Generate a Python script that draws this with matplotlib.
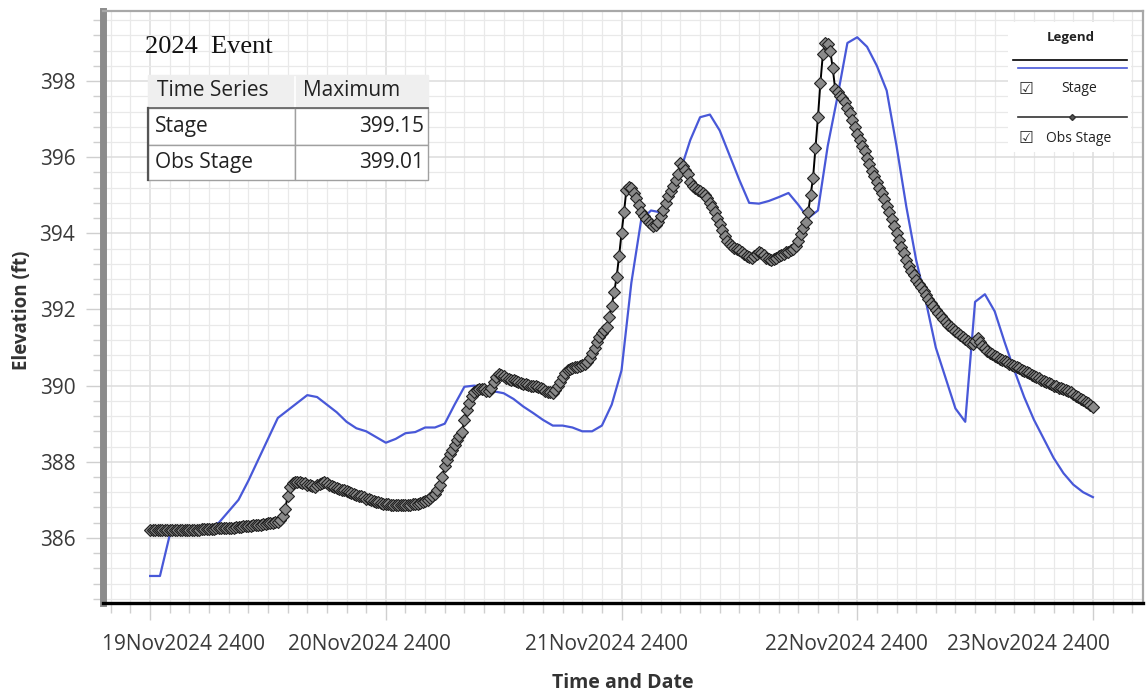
import numpy as np
import matplotlib
matplotlib.use('Agg')
import matplotlib.pyplot as plt
import matplotlib.patches as mpatches
import matplotlib.transforms as mtransforms
from matplotlib.lines import Line2D
from matplotlib.ticker import MultipleLocator

# ============================================================================
# DATA (hours after 19Nov2024 2400)
# ============================================================================
stage_hours = np.arange(0, 97, 1)
stage = [
    385.00, 385.00, 386.08, 386.10, 386.12, 386.15, 386.25, 386.40,   # 0-7
    386.70, 387.00, 387.50, 388.05, 388.60, 389.15, 389.35, 389.55,   # 8-15
    389.75, 389.70, 389.50, 389.30, 389.05, 388.88, 388.80, 388.65,   # 16-23
    388.50, 388.60, 388.75, 388.78, 388.90, 388.90, 389.00, 389.50,   # 24-31
    389.97, 390.00, 389.95, 389.85, 389.80, 389.65, 389.45, 389.28,   # 32-39
    389.10, 388.95, 388.95, 388.90, 388.80, 388.80, 388.95, 389.50,   # 40-47
    390.40, 392.70, 394.35, 394.60, 394.55, 394.90, 395.65, 396.45,   # 48-55
    397.05, 397.12, 396.70, 396.05, 395.40, 394.80, 394.78, 394.85,   # 56-63
    394.95, 395.06, 394.75, 394.40, 394.60, 396.30, 397.60, 399.00,   # 64-71
    399.15, 398.90, 398.40, 397.75, 396.30, 394.70, 393.30, 392.20,   # 72-79
    391.00, 390.20, 389.40, 389.05, 392.20, 392.40, 391.95, 391.15,   # 80-87
    390.40, 389.70, 389.10, 388.60, 388.10, 387.70, 387.40, 387.20,   # 88-95
    387.07,
]

obs_hours = np.arange(0, 96.01, 0.25)
obs_stage = [
    386.20, 386.20, 386.21, 386.20, 386.20, 386.21, 386.21, 386.20, 386.20, 386.21, 386.21, 386.21, 386.21, 386.20, 386.21, 386.21,
    386.21, 386.21, 386.22, 386.22, 386.22, 386.23, 386.23, 386.23, 386.24, 386.24, 386.24, 386.25, 386.25, 386.25, 386.26, 386.26,
    386.26, 386.27, 386.27, 386.28, 386.28, 386.29, 386.30, 386.30, 386.31, 386.32, 386.33, 386.33, 386.34, 386.35, 386.36, 386.37,
    386.38, 386.39, 386.40, 386.42, 386.43, 386.48, 386.58, 386.75, 387.10, 387.35, 387.45, 387.47, 387.48, 387.47, 387.45, 387.43,
    387.40, 387.38, 387.36, 387.35, 387.38, 387.42, 387.45, 387.46, 387.43, 387.40, 387.37, 387.34, 387.31, 387.29, 387.27, 387.25,
    387.22, 387.20, 387.18, 387.16, 387.13, 387.11, 387.09, 387.07, 387.03, 387.01, 386.99, 386.97, 386.95, 386.93, 386.91, 386.90,
    386.89, 386.88, 386.87, 386.87, 386.86, 386.86, 386.86, 386.86, 386.86, 386.87, 386.87, 386.88, 386.89, 386.90, 386.91, 386.93,
    386.97, 387.00, 387.04, 387.09, 387.16, 387.25, 387.40, 387.60, 387.88, 388.05, 388.20, 388.32, 388.45, 388.58, 388.68, 388.78,
    389.10, 389.35, 389.55, 389.72, 389.82, 389.88, 389.92, 389.92, 389.90, 389.87, 389.85, 389.95, 390.10, 390.22, 390.30, 390.28,
    390.25, 390.20, 390.17, 390.15, 390.14, 390.12, 390.10, 390.08, 390.05, 390.03, 390.01, 390.00, 389.99, 389.98, 389.97, 389.95,
    389.90, 389.87, 389.84, 389.82, 389.80, 389.88, 389.98, 390.10, 390.22, 390.32, 390.40, 390.43, 390.46, 390.48, 390.50, 390.52,
    390.55, 390.58, 390.62, 390.72, 390.85, 391.00, 391.15, 391.28, 391.38, 391.45, 391.55, 391.80, 392.10, 392.45, 392.85, 393.40,
    394.00, 394.55, 395.15, 395.22, 395.18, 395.05, 394.92, 394.75, 394.55, 394.45, 394.38, 394.30, 394.25, 394.20, 394.22, 394.30,
    394.45, 394.62, 394.80, 394.98, 395.12, 395.25, 395.40, 395.55, 395.85, 395.78, 395.66, 395.55, 395.35, 395.25, 395.20, 395.15,
    395.10, 395.06, 395.00, 394.92, 394.80, 394.68, 394.55, 394.40, 394.25, 394.08, 393.92, 393.80, 393.72, 393.66, 393.62, 393.60,
    393.55, 393.50, 393.45, 393.40, 393.38, 393.36, 393.40, 393.45, 393.50, 393.48, 393.42, 393.36, 393.32, 393.30, 393.33, 393.36,
    393.40, 393.42, 393.45, 393.50, 393.52, 393.55, 393.60, 393.66, 393.80, 393.98, 394.15, 394.30, 394.55, 395.00, 395.45, 396.25,
    397.05, 397.95, 398.70, 399.01, 398.98, 398.80, 398.35, 397.80, 397.70, 397.62, 397.55, 397.45, 397.30, 397.15, 396.98, 396.80,
    396.60, 396.45, 396.30, 396.15, 395.98, 395.82, 395.65, 395.50, 395.35, 395.20, 395.05, 394.90, 394.72, 394.55, 394.38, 394.20,
    394.00, 393.82, 393.65, 393.48, 393.30, 393.15, 393.02, 392.90, 392.78, 392.68, 392.58, 392.48, 392.38, 392.28, 392.18, 392.08,
    391.98, 391.90, 391.82, 391.75, 391.68, 391.60, 391.54, 391.48, 391.43, 391.38, 391.33, 391.28, 391.22, 391.17, 391.12, 391.10,
    391.18, 391.25, 391.15, 391.05, 390.98, 390.92, 390.86, 390.82, 390.78, 390.74, 390.70, 390.67, 390.64, 390.61, 390.58, 390.55,
    390.52, 390.48, 390.45, 390.41, 390.38, 390.35, 390.32, 390.29, 390.26, 390.22, 390.19, 390.16, 390.13, 390.10, 390.07, 390.04,
    390.00, 389.98, 389.95, 389.93, 389.90, 389.88, 389.85, 389.82, 389.78, 389.74, 389.70, 389.66, 389.62, 389.58, 389.54, 389.50,
    389.45,
]

day_ticks = [0, 24, 48, 72, 96]
day_labels = ['19Nov2024 2400', '20Nov2024 2400', '21Nov2024 2400',
              '22Nov2024 2400', '23Nov2024 2400']
y_ticks = [386, 388, 390, 392, 394, 396, 398]

table_rows = ['Stage', 'Obs Stage']
table_max = ['399.15', '399.01']

# ============================================================================
# FIGURE
# ============================================================================
W, H = 1146, 692
fig = plt.figure(figsize=(W / 100, H / 100), dpi=100)
fig.patch.set_facecolor('white')

def fx(px):
    return px / W

def fy(py):
    return 1 - py / H

ax_l, ax_r, ax_t, ax_b = 103, 1143, 11, 603
ax = fig.add_axes([fx(ax_l), fy(ax_b), fx(ax_r) - fx(ax_l), fy(ax_t) - fy(ax_b)])

ax.plot(stage_hours, stage, color='#4858d8', lw=1.6, zorder=3)
ax.plot(obs_hours, obs_stage, color='black', lw=1.4, marker='D', ms=6.6,
        mfc='#8a8a8a', mec='#202020', mew=0.8, zorder=4)

ax.set_xlim(-4.8, 101.1)
ax.set_ylim(384.29, 399.84)

# grid
ax.xaxis.set_major_locator(MultipleLocator(24))
ax.xaxis.set_minor_locator(MultipleLocator(2))
ax.yaxis.set_major_locator(MultipleLocator(2))
ax.yaxis.set_minor_locator(MultipleLocator(0.4))
ax.grid(which='minor', color='#e9e9e9', lw=0.9)
ax.grid(which='major', color='#dcdcdc', lw=1.1)
ax.set_axisbelow(True)

ax.set_xticks(day_ticks)
ax.set_xticklabels(day_labels)
ax.set_yticks(y_ticks)
ax.set_yticklabels([str(v) for v in y_ticks])

ax.tick_params(axis='both', which='both', direction='out', color='#cfcfcf')
ax.tick_params(axis='x', which='major', length=12, width=1, pad=10,
               labelsize=15, labelcolor='#3a3a3a')
ax.tick_params(axis='x', which='minor', length=7, width=1)
ax.tick_params(axis='y', which='major', length=12, width=1, pad=8,
               labelsize=15, labelcolor='#3a3a3a')
ax.tick_params(axis='y', which='minor', length=7, width=1)
for lab in ax.get_xticklabels() + ax.get_yticklabels():
    lab.set_fontfamily('Open Sans')

# shift x labels to where the original program put them
label_shift = [33, -16, -15, -11, -64]
for lab, dx in zip(ax.get_xticklabels(), label_shift):
    lab.set_transform(lab.get_transform() +
                      mtransforms.ScaledTranslation(dx / 100, 0, fig.dpi_scale_trans))

# spines
ax.spines['left'].set_color('#8c8c8c')
ax.spines['left'].set_linewidth(5)
ax.spines['bottom'].set_color('black')
ax.spines['bottom'].set_linewidth(2.4)
ax.spines['top'].set_color('#a8a8a8')
ax.spines['top'].set_linewidth(1.6)
ax.spines['right'].set_color('#a8a8a8')
ax.spines['right'].set_linewidth(1.6)

fig.text(fx(22), fy(310), 'Elevation (ft)', rotation=90, ha='center', va='center',
         fontsize=13.5, fontweight='bold', color='#333333', family='Open Sans')
fig.text(fx(623), fy(683), 'Time and Date', ha='center', va='center',
         fontsize=14, fontweight='bold', color='#333333', family='Open Sans')

# ============================================================================
# TITLE + MAXIMUM TABLE
# ============================================================================
fig.text(fx(145), fy(47), '2024  Event', ha='left', va='center',
         fontsize=19, family='Liberation Serif', color='#111111')

col_x = [148, 295, 428]
row_y = [75, 108, 145, 180]
tf = fig.transFigure

def cell(x0, y0, x1, y1, fc, ec):
    fig.patches.append(mpatches.Rectangle((fx(x0), fy(y1)), fx(x1) - fx(x0), fy(y0) - fy(y1),
                                          transform=tf, facecolor=fc, edgecolor=ec, lw=1, zorder=5))

cell(col_x[0], row_y[0], col_x[2], row_y[1], '#efefef', '#efefef')
for r in range(2):
    for c in range(2):
        cell(col_x[c], row_y[r + 1], col_x[c + 1], row_y[r + 2], 'white', '#a0a0a0')
fig.lines.append(Line2D([fx(col_x[1]), fx(col_x[1])], [fy(row_y[0] + 2), fy(row_y[1])],
                        transform=tf, color='white', lw=1.2, zorder=6))
fig.lines.append(Line2D([fx(col_x[0]), fx(col_x[2])], [fy(row_y[1]), fy(row_y[1])],
                        transform=tf, color='#6a6a6a', lw=1.3, zorder=6))
fig.lines.append(Line2D([fx(col_x[0]), fx(col_x[0])], [fy(row_y[1]), fy(row_y[3])],
                        transform=tf, color='#555555', lw=1.6, zorder=6))

tkw = dict(fontsize=15, family='Open Sans', color='#222222', va='center', zorder=7)
fig.text(fx(157), fy(91), 'Time Series', ha='left', **tkw)
fig.text(fx(303), fy(91), 'Maximum', ha='left', **tkw)
for i, (name, val) in enumerate(zip(table_rows, table_max)):
    yc = (row_y[i + 1] + row_y[i + 2]) / 2
    fig.text(fx(155), fy(yc), name, ha='left', **tkw)
    fig.text(fx(424), fy(yc), val, ha='right', **tkw)

# ============================================================================
# LEGEND PANEL
# ============================================================================
fig.patches.append(mpatches.Rectangle((fx(1008), fy(152)), fx(1131) - fx(1008), fy(22) - fy(152),
                                      transform=tf, facecolor='white', edgecolor='none', zorder=5))
fig.text(fx(1071), fy(37), 'Legend', ha='center', va='center', fontsize=9.5,
         fontweight='bold', family='Open Sans', color='#222222', zorder=7)
fig.lines.append(Line2D([fx(1013), fx(1127)], [fy(60), fy(60)], transform=tf,
                        color='black', lw=1.2, zorder=6))
fig.lines.append(Line2D([fx(1018), fx(1127)], [fy(68), fy(68)], transform=tf,
                        color='#4858d8', lw=1.2, zorder=6))
fig.lines.append(Line2D([fx(1018), fx(1127)], [fy(117), fy(117)], transform=tf,
                        color='#333333', lw=1.2, zorder=6))
fig.lines.append(Line2D([fx(1072)], [fy(117)], transform=tf, marker='D', ms=3,
                        mfc='#555555', mec='#333333', zorder=7))
for yc, name in [(89, 'Stage'), (138, 'Obs Stage')]:
    fig.text(fx(1026), fy(yc), '\u2611', ha='center', va='center', fontsize=12,
             family='DejaVu Sans', color='#333333', zorder=7)
    fig.text(fx(1079), fy(yc), name, ha='center', va='center', fontsize=10,
             family='Open Sans', color='#222222', zorder=7)

plt.savefig('out.png', dpi=100, facecolor='white')
plt.close()
